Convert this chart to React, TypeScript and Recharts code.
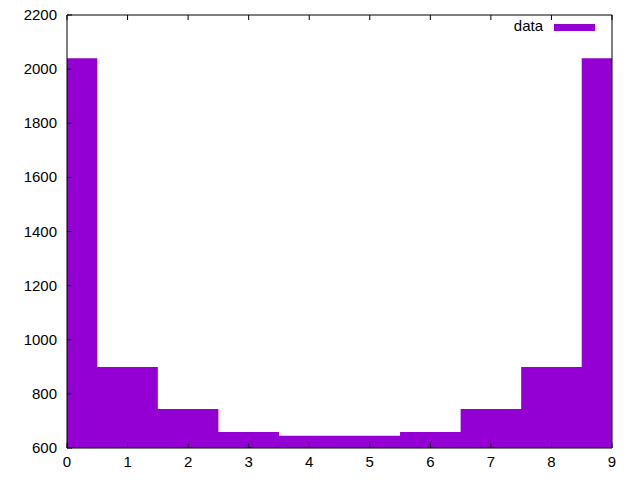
import { ComposedChart, Area, XAxis, YAxis, Legend } from 'recharts';

// bins 0..9, counts
const bins = [0, 1, 2, 3, 4, 5, 6, 7, 8, 9];
const counts = [2040, 899, 744, 659, 645, 645, 659, 744, 899, 2040];
const xTicks = [0, 1, 2, 3, 4, 5, 6, 7, 8, 9];
const yTicks = [600, 800, 1000, 1200, 1400, 1600, 1800, 2000, 2200];

const data = bins.map((b, i) => ({ bin: b, count: counts[i] }));

const FONT = '"Liberation Sans", Arial, sans-serif';
const PURPLE = '#9400D3';

// gnuplot style: ticks point inward, labels outside
const BottomTick = ({ x, y, payload }: any) => (
  <g>
    <line x1={x} y1={y} x2={x} y2={y - 5} stroke="#000" />
    <text x={x} y={y + 19} textAnchor="middle" fontSize={15} fontFamily={FONT} fill="#000">
      {payload.value}
    </text>
  </g>
);

const LeftTick = ({ x, y, payload }: any) => (
  <g>
    <line x1={x} y1={y} x2={x + 5} y2={y} stroke="#000" />
    <text x={x - 10} y={y + 5} textAnchor="end" fontSize={15} fontFamily={FONT} fill="#000">
      {payload.value}
    </text>
  </g>
);

const TopTick = ({ x, y }: any) => <line x1={x} y1={y} x2={x} y2={y + 5} stroke="#000" />;
const RightTick = ({ x, y }: any) => <line x1={x} y1={y} x2={x - 5} y2={y} stroke="#000" />;

const KeyBox = () => (
  <div style={{ position: 'relative', width: 120, height: 20, fontFamily: FONT, fontSize: 15 }}>
    <span style={{ position: 'absolute', right: 52, top: 0, color: '#000' }}>data</span>
    <span style={{ position: 'absolute', right: 0, top: 7, width: 41, height: 7, background: PURPLE }} />
  </div>
);

export default function App() {
  return (
    <div style={{ position: 'absolute', left: 0, top: 0, background: '#fff' }}>
      <ComposedChart width={640} height={480} data={data} margin={{ top: 15, right: 28, bottom: 0, left: 0 }}>
        <XAxis
          dataKey="bin"
          type="number"
          domain={[0, 9]}
          ticks={xTicks}
          height={32}
          tickSize={0}
          tickMargin={0}
          tickLine={false}
          axisLine={{ stroke: '#000' }}
          tick={<BottomTick />}
          interval={0}
        />
        <XAxis
          xAxisId="top"
          orientation="top"
          dataKey="bin"
          type="number"
          domain={[0, 9]}
          ticks={xTicks}
          mirror
          tickSize={0}
          tickMargin={0}
          tickLine={false}
          axisLine={{ stroke: '#000' }}
          tick={<TopTick />}
          interval={0}
        />
        <YAxis
          type="number"
          domain={[600, 2200]}
          ticks={yTicks}
          width={67}
          tickSize={0}
          tickMargin={0}
          tickLine={false}
          axisLine={{ stroke: '#000' }}
          tick={<LeftTick />}
          interval={0}
        />
        <YAxis
          yAxisId="right"
          orientation="right"
          type="number"
          domain={[600, 2200]}
          ticks={yTicks}
          mirror
          tickSize={0}
          tickMargin={0}
          tickLine={false}
          axisLine={{ stroke: '#000' }}
          tick={<RightTick />}
          interval={0}
        />
        <Legend
          layout="horizontal"
          verticalAlign="middle"
          align="center"
          content={<KeyBox />}
          wrapperStyle={{ top: 17, left: 475, width: 120, height: 20 }}
        />
        <Area
          type="step"
          dataKey="count"
          name="data"
          fill={PURPLE}
          fillOpacity={1}
          stroke="none"
          isAnimationActive={false}
        />
      </ComposedChart>
    </div>
  );
}
